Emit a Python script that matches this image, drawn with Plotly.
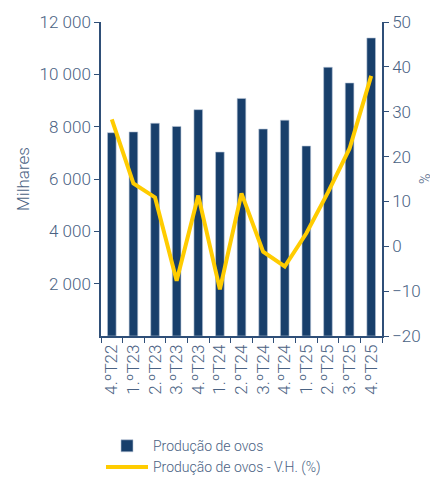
import plotly.graph_objects as go

categories = ["4.ºT22", "1.ºT23", "2.ºT23", "3.ºT23", "4.ºT23", "1.ºT24", "2.ºT24",
              "3.ºT24", "4.ºT24", "1.ºT25", "2.ºT25", "3.ºT25", "4.ºT25"]
producao = [7770, 7800, 8130, 8010, 8650, 7030, 9080, 7910, 8250, 7260, 10270, 9670, 11390]
vh = [28.3, 14.0, 10.9, -7.7, 11.3, -9.6, 11.8, -1.2, -4.5, 2.9, 12.0, 21.8, 38.0]

axis_col = "#2f4f78"
text_col = "#4a6283"
font_family = "Roboto"

fig = go.Figure()
fig.add_trace(go.Bar(x=categories, y=producao, name="Produção de ovos",
                     marker=dict(color="#183f6b", line=dict(color="#b9c6d6", width=0.6)),
                     width=0.4, yaxis="y"))
fig.add_trace(go.Scatter(x=categories, y=vh, name="Produção de ovos - V.H. (%)",
                         mode="lines", line=dict(color="#FFCC00", width=4), yaxis="y2"))

fig.update_layout(
    width=430, height=469,
    margin=dict(l=93, r=56, t=14, b=141, autoexpand=False),
    plot_bgcolor="white", paper_bgcolor="white",
    separators=", ",
    font=dict(family=font_family, color=text_col, size=17, weight=300),
    showlegend=True,
    legend=dict(orientation="v", x=0.0, xanchor="left", y=-0.3, yanchor="top",
                font=dict(size=14, color=text_col), tracegroupgap=0, itemwidth=42),
    xaxis=dict(showline=True, linecolor=axis_col, linewidth=1.5, ticks="outside",
               tickcolor=axis_col, ticklen=5, tickson="boundaries", tickangle=-90,
               tickfont=dict(size=17, color=text_col), showgrid=False, automargin=False),
    yaxis=dict(range=[0, 12000], dtick=2000, tickformat=",d", showline=True,
               linecolor=axis_col, linewidth=1.5, ticks="outside", tickcolor=axis_col,
               ticklen=5, showgrid=False, zeroline=False, automargin=False,
               tickvals=[2000, 4000, 6000, 8000, 10000, 12000],
               title=dict(text="Milhares", font=dict(size=17, color=text_col), standoff=6),
               tickfont=dict(size=17, color=text_col)),
    yaxis2=dict(range=[-20, 50], dtick=10, overlaying="y", side="right", showline=True,
                linecolor=axis_col, linewidth=1.5, ticks="outside", tickcolor=axis_col,
                ticklen=5, showgrid=False, zeroline=False, automargin=False,
                tickfont=dict(size=17, color=text_col)),
    annotations=[dict(text="%", xref="paper", yref="paper", x=1, y=0.5, xshift=53,
                      showarrow=False, textangle=-90,
                      font=dict(size=14, color=text_col, family=font_family))],
)

fig.write_html("out.html")
